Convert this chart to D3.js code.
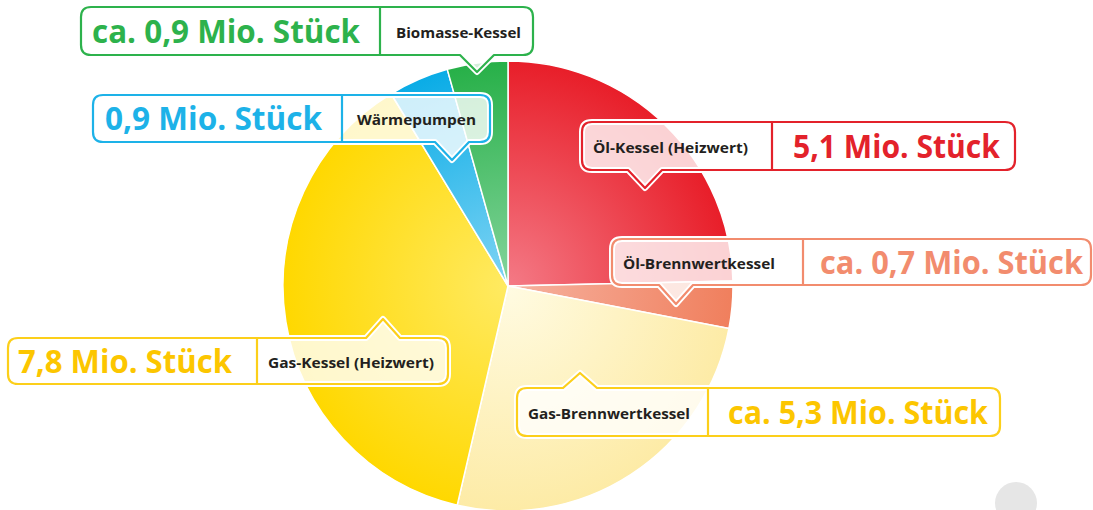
<!DOCTYPE html>
<html><head><meta charset="utf-8">
<script src="https://cdn.jsdelivr.net/npm/d3@7"></script>
<style>html,body{margin:0;padding:0;background:#fff;}svg{display:block;}</style>
</head><body>
<svg id="c" width="1093" height="510"></svg>
<script>
// ---- data ----
const categories = ["Öl-Kessel (Heizwert)", "Öl-Brennwertkessel", "Gas-Brennwertkessel", "Gas-Kessel (Heizwert)", "Wärmepumpen", "Biomasse-Kessel"];
const values = [5.1, 0.7, 5.3, 7.8, 0.9, 0.9];
const valueLabels = ["5,1 Mio. Stück", "ca. 0,7 Mio. Stück", "ca. 5,3 Mio. Stück", "7,8 Mio. Stück", "0,9 Mio. Stück", "ca. 0,9 Mio. Stück"];

// ---- styles ----
const gradStops = [["#f47a86", "#e81e29"], ["#f6b2a0", "#f07f5d"], ["#fffbe2", "#fdeba6"], ["#ffea62", "#ffd800"], ["#80d4f4", "#0aace6"], ["#84d49c", "#27b048"]];
const textColors = ["#e3222b", "#f28c6e", "#fcc600", "#fcc600", "#1db2e8", "#2db24c"];
const borderColors = ["#e3222b", "#f28c6e", "#fccf1a", "#fccf1a", "#1db2e8", "#2db24c"];
// callout layout: box, divider, pointer, text extents
const layout = [
  {x0:582,y0:122,x1:1015,y1:170,div:772,ptr:645,side:"bottom",tip:188,vx:793,vw:207,cx:593,cw:155},
  {x0:612,y0:239,x1:1091,y1:285,div:803,ptr:676,side:"bottom",tip:304,vx:820,vw:263,cx:623,cw:152},
  {x0:517,y0:388,x1:1000,y1:436,div:708,ptr:580,side:"top",tip:373,vx:728,vw:260,cx:528,cw:162},
  {x0:8,y0:338,x1:448,y1:384,div:257,ptr:383,side:"top",tip:319,vx:18,vw:214,cx:268,cw:166},
  {x0:93,y0:95,x1:490,y1:142,div:342,ptr:452,side:"bottom",tip:160,vx:105,vw:217,cx:357,cw:119},
  {x0:81,y0:7,x1:533,y1:55,div:380,ptr:477,side:"bottom",tip:72,vx:92,vw:268,cx:396,cw:125}
];

const svg = d3.select("#c");
const cx = 508, cy = 286, R = 225;

const defs = svg.append("defs");
gradStops.forEach((s, i) => {
  const g = defs.append("radialGradient").attr("id", "g" + i)
    .attr("gradientUnits", "userSpaceOnUse").attr("cx", 0).attr("cy", 0).attr("r", R);
  g.append("stop").attr("offset", "0").attr("stop-color", s[0]);
  g.append("stop").attr("offset", "1").attr("stop-color", s[1]);
});

// background grey dot
svg.append("circle").attr("cx", 1016).attr("cy", 503).attr("r", 21).attr("fill", "#e6e6e6");

const pie = d3.pie().sort(null).value(d => d)(values);
const arc = d3.arc().innerRadius(0).outerRadius(R);
svg.append("g").attr("transform", `translate(${cx},${cy})`)
  .selectAll("path").data(pie).join("path")
  .attr("d", arc)
  .attr("fill", (d, i) => `url(#g${i})`)
  .attr("stroke", "#fff").attr("stroke-width", 1.5).attr("stroke-linejoin", "round");

function calloutPath(L) {
  const r = 10, hw = 17;
  const {x0, y0, x1, y1, ptr, side, tip} = L;
  let p = `M${x0 + r},${y0}`;
  if (side === "top") p += `L${ptr - hw},${y0}L${ptr},${tip}L${ptr + hw},${y0}`;
  p += `L${x1 - r},${y0}Q${x1},${y0} ${x1},${y0 + r}L${x1},${y1 - r}Q${x1},${y1} ${x1 - r},${y1}`;
  if (side === "bottom") p += `L${ptr + hw},${y1}L${ptr},${tip}L${ptr - hw},${y1}`;
  p += `L${x0 + r},${y1}Q${x0},${y1} ${x0},${y1 - r}L${x0},${y0 + r}Q${x0},${y0} ${x0 + r},${y0}Z`;
  return p;
}

const fontFam = "'Open Sans', 'Noto Sans', sans-serif";
const cg = svg.append("g");
layout.forEach((L, i) => {
  const g = cg.append("g");
  const d = calloutPath(L);
  g.append("path").attr("d", d).attr("fill", "none").attr("stroke", "#fff").attr("stroke-width", 6).attr("stroke-linejoin", "round");
  g.append("path").attr("d", d).attr("fill", "rgba(255,255,255,0.8)")
    .attr("stroke", borderColors[i]).attr("stroke-width", 2.2).attr("stroke-linejoin", "round");
  g.append("line").attr("x1", L.div).attr("x2", L.div).attr("y1", L.y0).attr("y2", L.y1)
    .attr("stroke", borderColors[i]).attr("stroke-width", 2.2);
  const mid = (L.y0 + L.y1) / 2;
  g.append("text").attr("x", L.vx).attr("y", mid + 11.5)
    .attr("font-family", fontFam).attr("font-weight", 700).attr("font-size", 32)
    .attr("fill", textColors[i])
    .attr("textLength", L.vw).attr("lengthAdjust", "spacingAndGlyphs")
    .text(valueLabels[i]);
  g.append("text").attr("x", L.cx).attr("y", mid + 6.5)
    .attr("font-family", fontFam).attr("font-weight", 700).attr("font-size", 15)
    .attr("fill", "#231f20")
    .attr("textLength", L.cw).attr("lengthAdjust", "spacingAndGlyphs")
    .text(categories[i]);
});
</script>
</body></html>
